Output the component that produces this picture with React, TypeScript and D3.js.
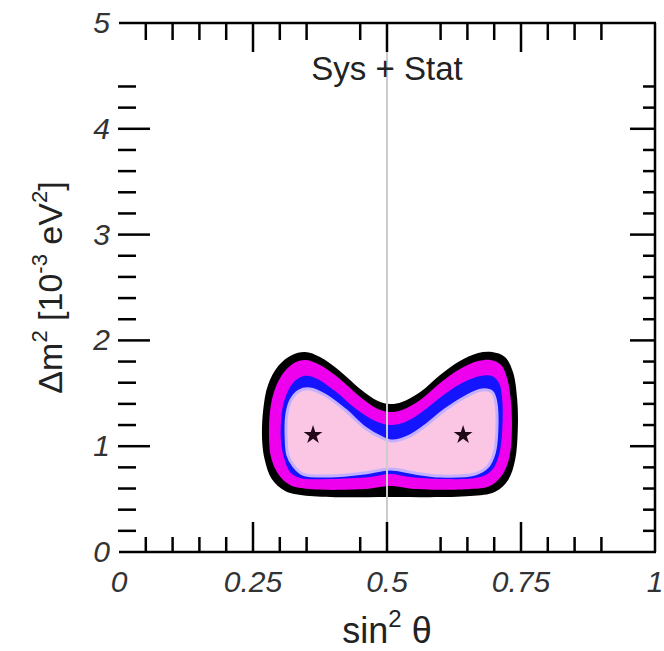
import React from "react";
import * as d3 from "d3";

// ---- data ----
const xLabelValues = [0, 0.25, 0.5, 0.75, 1];
const xLabelTexts = ["0", "0.25", "0.5", "0.75", "1"];
const yLabelValues = [0, 1, 2, 3, 4, 5];
const xMajorTicks = [0.25, 0.5, 0.75];
const xMinorTicks = [0.05, 0.1, 0.15, 0.2, 0.3, 0.35, 0.45, 0.6, 0.65, 0.7, 0.8, 0.85, 0.9];
const yMajorTicks = [1, 2, 3, 4];
const yMinorTicks = [0.2, 0.4, 0.6, 0.8, 1.2, 1.4, 1.6, 1.8, 2.2, 2.4, 2.6, 2.8, 3.2, 3.4, 3.6, 3.8, 4.2, 4.4];

// contour levels [sin^2 theta, dm^2]
const contour99: [number, number][] = [
  [0.267, 1.059], [0.269, 1.342], [0.278, 1.578], [0.297, 1.758], [0.323, 1.862], [0.347, 1.89],
  [0.375, 1.843], [0.412, 1.711], [0.45, 1.541], [0.483, 1.427], [0.506, 1.399], [0.528, 1.418],
  [0.562, 1.512], [0.599, 1.673], [0.636, 1.805], [0.67, 1.881], [0.696, 1.89], [0.72, 1.843],
  [0.735, 1.701], [0.743, 1.437], [0.744, 1.153], [0.739, 0.87], [0.726, 0.681], [0.701, 0.567],
  [0.655, 0.529], [0.506, 0.52], [0.356, 0.529], [0.31, 0.577], [0.285, 0.69], [0.272, 0.87],
];
const contour95: [number, number][] = [
  [0.28, 1.059], [0.282, 1.342], [0.291, 1.541], [0.308, 1.701], [0.33, 1.796], [0.349, 1.815],
  [0.375, 1.767], [0.412, 1.635], [0.45, 1.465], [0.483, 1.352], [0.506, 1.323], [0.528, 1.342],
  [0.562, 1.437], [0.599, 1.597], [0.636, 1.73], [0.67, 1.805], [0.694, 1.815], [0.713, 1.767],
  [0.724, 1.645], [0.731, 1.437], [0.733, 1.153], [0.728, 0.888], [0.715, 0.728], [0.692, 0.624],
  [0.655, 0.595], [0.552, 0.595], [0.506, 0.624], [0.459, 0.595], [0.356, 0.595], [0.319, 0.633],
  [0.297, 0.737], [0.284, 0.888],
];
const contour90: [number, number][] = [
  [0.302, 1.059], [0.304, 1.323], [0.312, 1.484], [0.326, 1.607], [0.345, 1.664], [0.366, 1.645],
  [0.403, 1.522], [0.44, 1.361], [0.478, 1.238], [0.506, 1.2], [0.534, 1.229], [0.565, 1.323],
  [0.603, 1.474], [0.64, 1.597], [0.674, 1.664], [0.696, 1.664], [0.709, 1.597], [0.715, 1.437],
  [0.715, 1.153], [0.709, 0.917], [0.696, 0.775], [0.674, 0.709], [0.599, 0.69], [0.543, 0.709],
  [0.506, 0.737], [0.468, 0.709], [0.394, 0.69], [0.338, 0.699], [0.319, 0.756], [0.308, 0.888],
];
const contour68: [number, number][] = [
  [0.312, 1.059], [0.313, 1.295], [0.321, 1.437], [0.336, 1.522], [0.356, 1.541], [0.384, 1.484],
  [0.422, 1.342], [0.459, 1.172], [0.491, 1.078], [0.511, 1.049], [0.539, 1.087], [0.571, 1.191],
  [0.608, 1.342], [0.646, 1.465], [0.677, 1.531], [0.696, 1.512], [0.703, 1.418], [0.705, 1.153],
  [0.7, 0.936], [0.687, 0.803], [0.664, 0.737], [0.599, 0.718], [0.552, 0.747], [0.506, 0.785],
  [0.459, 0.747], [0.394, 0.718], [0.343, 0.737], [0.326, 0.813], [0.315, 0.917],
];
const bestFits: [number, number][] = [[0.362, 1.106], [0.642, 1.106]];

const W = 664;
const H = 651;
const FONT = "'Liberation Sans', Arial, Helvetica, sans-serif";

export default function App() {
  const x = d3.scaleLinear().domain([0, 1]).range([119, 655]);
  const y = d3.scaleLinear().domain([0, 5]).range([552, 23]);
  const line = d3
    .line<[number, number]>()
    .x((d) => x(d[0]))
    .y((d) => y(d[1]))
    .curve(d3.curveCatmullRomClosed.alpha(0.5));
  const star = d3.symbol().type(d3.symbolStar).size(110)();

  const [x0, x1] = x.range();
  const [yb, yt] = y.range();

  return (
    <svg width={W} height={H} style={{ position: "absolute", left: 0, top: 0, background: "#fff" }}>
      <rect width={W} height={H} fill="#fff" />
      {/* contours */}
      <path d={line(contour99) || ""} fill="#000" />
      <path d={line(contour95) || ""} fill="#ee00ee" />
      <path d={line(contour90) || ""} fill="#1414ff" />
      <path d={line(contour68) || ""} fill="#fac6e4" stroke="#c4b0ff" strokeWidth={3} />
      {bestFits.map((d, i) => (
        <path key={i} d={star || ""} transform={`translate(${x(d[0])},${y(d[1])})`} fill="#200818" />
      ))}
      {/* vertical line at maximal mixing */}
      <line x1={x(0.5)} x2={x(0.5)} y1={yt} y2={yb} stroke="#cccccc" strokeWidth={2} />

      {/* frame: top, right, bottom */}
      <g stroke="#000" strokeWidth={2.5} fill="none">
        <line x1={x0} x2={x1 + 1} y1={yt} y2={yt} />
        <line x1={x1} x2={x1} y1={yt} y2={yb} />
        <line x1={x0} x2={x1 + 1} y1={yb} y2={yb} />
      </g>
      {/* ticks */}
      <g stroke="#000" strokeWidth={2.5}>
        {xMajorTicks.map((v) => (
          <g key={"xM" + v}>
            <line x1={x(v)} x2={x(v)} y1={yb} y2={yb - 30} />
            <line x1={x(v)} x2={x(v)} y1={yt} y2={yt + 29} />
          </g>
        ))}
        {xMinorTicks.map((v) => (
          <g key={"xm" + v}>
            <line x1={x(v)} x2={x(v)} y1={yb} y2={yb - 15} />
            <line x1={x(v)} x2={x(v)} y1={yt} y2={yt + 17} />
          </g>
        ))}
        {yMajorTicks.map((v) => (
          <g key={"yM" + v}>
            <line x1={x0 - 1} x2={x0 + 31} y1={y(v)} y2={y(v)} />
            <line x1={x1} x2={x1 - 25} y1={y(v)} y2={y(v)} />
          </g>
        ))}
        {yMinorTicks.map((v) => (
          <g key={"ym" + v}>
            <line x1={x0 - 1} x2={x0 + 17} y1={y(v)} y2={y(v)} />
            <line x1={x1} x2={x1 - 12} y1={y(v)} y2={y(v)} />
          </g>
        ))}
      </g>
      {/* tick labels */}
      <g fontFamily={FONT} fontStyle="italic" fontSize={30} fill="#333">
        {xLabelValues.map((v, i) => (
          <text key={"xl" + v} x={x(v)} y={592} textAnchor="middle">
            {xLabelTexts[i]}
          </text>
        ))}
        {yLabelValues.map((v) => (
          <text key={"yl" + v} x={110} y={y(v) + 10} textAnchor="end">
            {String(v)}
          </text>
        ))}
      </g>
      {/* annotation */}
      <text x={x(0.5)} y={80} textAnchor="middle" fontFamily={FONT} fontSize={33} fill="#222">
        Sys + Stat
      </text>
      {/* axis titles */}
      <text x={x(0.5)} y={643} textAnchor="middle" fontFamily={FONT} fontSize={36} fill="#222">
        sin
        <tspan fontSize={24} dy={-16}>2</tspan>
        <tspan dy={16}> θ</tspan>
      </text>
      <text
        transform={`translate(62,${(yt + yb) / 2}) rotate(-90)`}
        textAnchor="middle"
        fontFamily={FONT}
        fontSize={34}
        fill="#222"
      >
        Δm
        <tspan fontSize={22} dy={-15}>2</tspan>
        <tspan dy={15}> [10</tspan>
        <tspan fontSize={22} dy={-15}>-3</tspan>
        <tspan dy={15}> eV</tspan>
        <tspan fontSize={22} dy={-15}>2</tspan>
        <tspan dy={15}>]</tspan>
      </text>
    </svg>
  );
}
